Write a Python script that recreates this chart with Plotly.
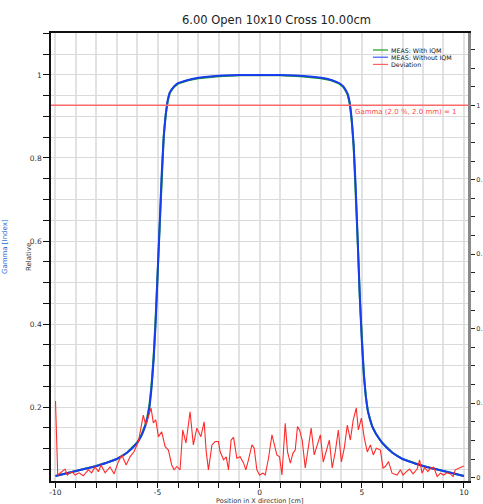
import plotly.graph_objects as go

# ---------------- data ----------------
prof_x = [-10.0, -9.5, -9.0, -8.5, -8.0, -7.5, -7.0, -6.5, -6.0, -5.8, -5.6, -5.5, -5.4, -5.3,
          -5.2, -5.1, -5.0, -4.9, -4.8, -4.7, -4.6, -4.5, -4.4, -4.2, -4.0, -3.5, -3.0, -2.0,
          -1.0, 0.0, 1.0, 2.0, 3.0, 3.5, 3.9, 4.1, 4.3, 4.4, 4.5, 4.6, 4.7, 4.8, 4.9, 5.0,
          5.1, 5.2, 5.3, 5.5, 5.7, 6.0, 6.5, 7.0, 7.5, 8.0, 8.5, 9.0, 9.5, 10.0]
meas_without_iqm = [0.034, 0.040, 0.046, 0.052, 0.058, 0.066, 0.075, 0.090, 0.114, 0.130, 0.155,
                    0.173, 0.200, 0.245, 0.310, 0.400, 0.520, 0.640, 0.760, 0.850, 0.905, 0.940,
                    0.958, 0.972, 0.980, 0.988, 0.993, 0.998, 1.000, 1.000, 1.000, 0.998, 0.993,
                    0.988, 0.980, 0.972, 0.955, 0.935, 0.895, 0.830, 0.730, 0.600, 0.470, 0.360,
                    0.280, 0.225, 0.190, 0.155, 0.135, 0.114, 0.090, 0.075, 0.066, 0.058, 0.052,
                    0.046, 0.040, 0.034]
meas_with_iqm = [0.034, 0.040, 0.046, 0.052, 0.058, 0.066, 0.075, 0.090, 0.115, 0.132, 0.158,
                 0.177, 0.205, 0.252, 0.318, 0.410, 0.530, 0.650, 0.765, 0.852, 0.905, 0.938,
                 0.957, 0.971, 0.979, 0.987, 0.992, 0.997, 0.999, 0.999, 0.999, 0.997, 0.992,
                 0.987, 0.979, 0.971, 0.954, 0.933, 0.893, 0.828, 0.727, 0.597, 0.466, 0.357,
                 0.278, 0.224, 0.189, 0.155, 0.135, 0.114, 0.090, 0.075, 0.066, 0.058, 0.052,
                 0.046, 0.040, 0.034]

dev_x = [-10.0, -9.89, -9.53, -9.42, -9.21, -9.04, -8.85, -8.64, -8.39, -8.23, -8.06, -7.90,
         -7.77, -7.57, -7.33, -7.13, -6.92, -6.75, -6.54, -6.35, -6.15, -5.94, -5.77, -5.70,
         -5.58, -5.45, -5.32, -5.21, -5.09, -4.96, -4.80, -4.63, -4.47, -4.31, -4.19, -4.06,
         -3.90, -3.77, -3.61, -3.41, -3.25, -3.08, -2.88, -2.72, -2.62, -2.51, -2.34, -2.18,
         -2.02, -1.94, -1.77, -1.64, -1.53, -1.40, -1.28, -1.12, -0.96, -0.79, -0.68, -0.55,
         -0.38, -0.27, -0.14, -0.01, 0.16, 0.27, 0.43, 0.60, 0.71, 0.84, 0.97, 1.09, 1.25,
         1.36, 1.50, 1.63, 1.74, 1.85, 1.95, 2.08, 2.23, 2.38, 2.52, 2.67, 2.82, 2.97, 3.11,
         3.26, 3.41, 3.55, 3.70, 3.85, 4.00, 4.14, 4.29, 4.44, 4.58, 4.73, 4.83, 4.98, 5.12,
         5.27, 5.42, 5.56, 5.71, 5.91, 6.04, 6.15, 6.31, 6.48, 6.73, 6.89, 7.02, 7.18, 7.34,
         7.51, 7.71, 7.83, 7.95, 8.08, 8.23, 8.36, 8.52, 8.69, 8.85, 9.01, 9.17, 9.34, 9.47,
         9.58, 9.75, 9.91, 9.99]
deviation = [0.206, 0.007, 0.023, 0.007, 0.016, 0.007, 0.013, 0.005, 0.021, 0.013, 0.029, 0.016,
             0.034, 0.013, 0.029, 0.010, 0.043, 0.061, 0.034, 0.056, 0.070, 0.097, 0.147, 0.168,
             0.141, 0.164, 0.187, 0.147, 0.155, 0.110, 0.123, 0.083, 0.074, 0.034, 0.021, 0.030,
             0.021, 0.128, 0.093, 0.177, 0.088, 0.133, 0.110, 0.150, 0.070, 0.021, 0.088, 0.097,
             0.097, 0.070, 0.048, 0.056, 0.021, 0.101, 0.108, 0.052, 0.056, 0.039, 0.021, 0.048,
             0.088, 0.079, 0.021, 0.007, 0.012, 0.007, 0.052, 0.115, 0.092, 0.061, 0.056, 0.007,
             0.146, 0.070, 0.039, 0.066, 0.074, 0.137, 0.128, 0.101, 0.026, 0.088, 0.133, 0.061,
             0.088, 0.115, 0.042, 0.074, 0.101, 0.026, 0.069, 0.128, 0.042, 0.079, 0.141, 0.101,
             0.155, 0.187, 0.128, 0.160, 0.107, 0.069, 0.088, 0.061, 0.079, 0.074, 0.026, 0.030,
             0.043, 0.012, 0.007, 0.021, 0.007, 0.016, 0.023, 0.010, 0.023, 0.048, 0.012, 0.028,
             0.016, 0.025, 0.028, 0.003, 0.012, 0.007, 0.013, 0.010, 0.003, 0.021, 0.025, 0.028,
             0.031]

gamma_limit = 1.0
gamma_label = "Gamma (2.0 %, 2.0 mm) = 1"
title_text = "6.00 Open 10x10 Cross 10.00cm"
x_title = "Position in X direction [cm]"
y_title = "Relative"
y2_title = "Gamma [Index]"

x_tickvals = list(range(-10, 11))
x_ticktext = [str(v) if v % 5 == 0 else "" for v in x_tickvals]
y_tickvals = [round(0.05 * i, 2) for i in range(1, 23)]
y_ticktext = {0.2: "0.2", 0.4: "0.4", 0.6: "0.6", 0.8: "0.8", 1.0: "1"}
y2_tickvals = [round(0.05 * i, 2) for i in range(0, 25)]
y2_ticktext = {0.0: "0", 0.2: "0.", 0.4: "0.", 0.6: "0.", 0.8: "0.", 1.0: "1", 1.2: "1."}

legend_names = ["MEAS: With IQM", "MEAS: Without IQM", "Deviation"]
legend_colors = ["#1aa01a", "#3a5cff", "#ff6060"]

FONT = "DejaVu Sans"
W, H = 483, 504
L, R, T, B = 51, 15, 33, 23
PW, PH = W - L - R, H - T - B

def px_x(p):
    return (p - L) / PW

def px_y(p):
    return (H - B - p) / PH

fig = go.Figure()
fig.add_trace(go.Scatter(x=prof_x, y=meas_with_iqm, mode="lines", name=legend_names[0],
                         line=dict(color="#12a012", width=2), yaxis="y"))
fig.add_trace(go.Scatter(x=prof_x, y=meas_without_iqm, mode="lines", name=legend_names[1],
                         line=dict(color="#1a3cf0", width=2, shape="spline", smoothing=0.6), yaxis="y"))
fig.add_trace(go.Scatter(x=dev_x, y=deviation, mode="lines", name=legend_names[2],
                         line=dict(color="#ff2a2a", width=1.1), yaxis="y2"))

# gamma limit line
fig.add_shape(type="line", xref="paper", x0=0, x1=1, yref="y2", y0=gamma_limit, y1=gamma_limit,
              line=dict(color="#ff6a6a", width=1.5))
fig.add_annotation(xref="paper", x=px_x(459), yref="paper", y=px_y(112), text=gamma_label,
                   showarrow=False, xanchor="right", yanchor="middle",
                   font=dict(family=FONT, size=7, color="#ff4a4a"))

# manual legend
for i, (nm, col) in enumerate(zip(legend_names, legend_colors)):
    yy = 50 + i * 7.2
    fig.add_shape(type="line", xref="paper", yref="paper", x0=px_x(373), x1=px_x(388),
                  y0=px_y(yy), y1=px_y(yy), line=dict(color=col, width=1.2))
    fig.add_annotation(xref="paper", yref="paper", x=px_x(389), y=px_y(yy), text=nm,
                       showarrow=False, xanchor="left", yanchor="middle",
                       font=dict(family=FONT, size=6.3, color="#111"))

# titles
fig.add_annotation(xref="paper", yref="paper", x=px_x(276), y=px_y(20), text=title_text,
                   showarrow=False, xanchor="center", yanchor="middle",
                   font=dict(family=FONT, size=11.5, color="#222"))
fig.add_annotation(xref="paper", yref="paper", x=px_x(259.5), y=px_y(500.5), text=x_title,
                   showarrow=False, xanchor="center", yanchor="middle",
                   font=dict(family=FONT, size=6.5, color="#333"))
fig.add_annotation(xref="paper", yref="paper", x=px_x(29), y=px_y(257), text=y_title,
                   showarrow=False, textangle=-90, xanchor="center", yanchor="middle",
                   font=dict(family=FONT, size=7, color="#333"))
fig.add_annotation(xref="paper", yref="paper", x=px_x(5), y=px_y(247), text=y2_title,
                   showarrow=False, textangle=-90, xanchor="center", yanchor="middle",
                   font=dict(family=FONT, size=7, color="#1a6ad8"))

fig.update_layout(
    width=W, height=H, margin=dict(l=L, r=R, t=T, b=B, pad=0, autoexpand=False),
    paper_bgcolor="white", plot_bgcolor="white", showlegend=False,
    font=dict(family=FONT, size=8, color="#222"),
    xaxis=dict(range=[-10.22, 10.2], tickvals=x_tickvals, ticktext=x_ticktext, automargin=False,
               showgrid=True, gridcolor="#e2e2e2", gridwidth=1.5, zeroline=False,
               showline=True, linecolor="#111", linewidth=1.5, mirror=True,
               ticks="outside", ticklen=5, tickcolor="#111", tickwidth=1,
               ticklabelstandoff=-2,
               tickfont=dict(family=FONT, size=7.5, color="#222")),
    yaxis=dict(range=[0.022, 1.101], tickvals=y_tickvals, automargin=False,
               ticktext=[y_ticktext.get(v, "") for v in y_tickvals],
               showgrid=True, gridcolor="#dadada", gridwidth=1, zeroline=False,
               showline=True, linecolor="#111", linewidth=1.5,
               ticks="outside", ticklen=6, tickcolor="#111", tickwidth=1,
               tickfont=dict(family=FONT, size=7.5, color="#333")),
    yaxis2=dict(range=[-0.009, 1.194], overlaying="y", side="right", anchor="x", automargin=False,
                tickvals=y2_tickvals, ticktext=[y2_ticktext.get(v, "") for v in y2_tickvals],
                showgrid=False, zeroline=False, showline=True, linecolor="#8a8a8a", linewidth=3,
                ticks="outside", ticklen=4, tickcolor="#222", tickwidth=1,
                ticklabelstandoff=0,
                tickfont=dict(family=FONT, size=6.5, color="#333")),
)

fig.write_html("out.html")
